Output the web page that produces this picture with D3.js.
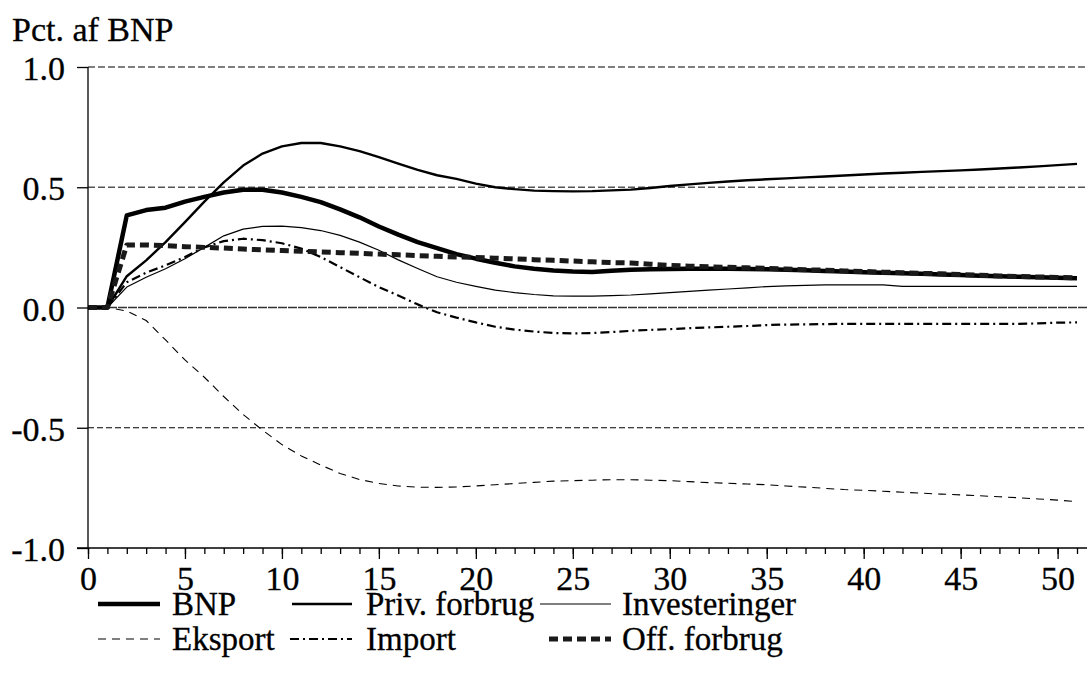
<!DOCTYPE html>
<html>
<head>
<meta charset="utf-8">
<script src="https://cdn.jsdelivr.net/npm/d3@7"></script>
<style>
  html, body { margin: 0; padding: 0; background: #fff; }
</style>
</head>
<body>
<svg id="chart" width="1089" height="686"></svg>
<script>
// Quarters after the shock
const periods = d3.range(0, 52);

// Effects, pct. of GDP
const bnp = [0, 0, 0.383, 0.405, 0.415, 0.44, 0.46, 0.478, 0.49, 0.49, 0.478, 0.46, 0.438, 0.408, 0.375, 0.337, 0.303, 0.272, 0.247, 0.222, 0.203, 0.186, 0.171, 0.161, 0.154, 0.15, 0.148, 0.153, 0.157, 0.159, 0.16, 0.161, 0.161, 0.161, 0.16, 0.159, 0.157, 0.155, 0.152, 0.15, 0.147, 0.145, 0.142, 0.14, 0.137, 0.135, 0.132, 0.13, 0.128, 0.126, 0.124, 0.122];
const privForbrug = [0, 0, 0.13, 0.196, 0.272, 0.355, 0.44, 0.52, 0.59, 0.64, 0.67, 0.684, 0.684, 0.67, 0.65, 0.625, 0.598, 0.572, 0.55, 0.535, 0.515, 0.5, 0.492, 0.486, 0.484, 0.483, 0.484, 0.487, 0.49, 0.497, 0.505, 0.512, 0.518, 0.524, 0.529, 0.533, 0.537, 0.541, 0.545, 0.549, 0.553, 0.557, 0.56, 0.564, 0.567, 0.57, 0.574, 0.578, 0.582, 0.587, 0.592, 0.597];
const investeringer = [0, 0, 0.085, 0.126, 0.161, 0.203, 0.25, 0.298, 0.326, 0.337, 0.338, 0.332, 0.32, 0.3, 0.272, 0.238, 0.198, 0.162, 0.128, 0.105, 0.088, 0.072, 0.062, 0.054, 0.048, 0.047, 0.047, 0.049, 0.052, 0.057, 0.062, 0.067, 0.072, 0.077, 0.082, 0.087, 0.09, 0.092, 0.094, 0.094, 0.094, 0.094, 0.088, 0.088, 0.088, 0.088, 0.088, 0.088, 0.088, 0.088, 0.088, 0.088];
const eksport = [0, 0, -0.015, -0.054, -0.135, -0.218, -0.29, -0.37, -0.445, -0.51, -0.57, -0.617, -0.655, -0.69, -0.715, -0.732, -0.742, -0.747, -0.748, -0.746, -0.742, -0.737, -0.732, -0.727, -0.722, -0.72, -0.718, -0.716, -0.716, -0.718, -0.72, -0.724, -0.728, -0.731, -0.734, -0.737, -0.742, -0.747, -0.752, -0.757, -0.76, -0.764, -0.768, -0.772, -0.776, -0.779, -0.783, -0.787, -0.791, -0.796, -0.801, -0.807];
const importVals = [0, 0, 0.105, 0.145, 0.175, 0.21, 0.25, 0.276, 0.286, 0.28, 0.267, 0.245, 0.21, 0.168, 0.126, 0.085, 0.05, 0.013, -0.02, -0.042, -0.062, -0.08, -0.092, -0.1, -0.106, -0.108, -0.106, -0.102, -0.097, -0.093, -0.09, -0.086, -0.083, -0.08, -0.077, -0.073, -0.071, -0.07, -0.069, -0.068, -0.068, -0.068, -0.068, -0.068, -0.068, -0.068, -0.068, -0.068, -0.068, -0.066, -0.063, -0.062];
const offForbrug = [0, 0, 0.26, 0.26, 0.257, 0.253, 0.25, 0.247, 0.243, 0.24, 0.237, 0.234, 0.231, 0.228, 0.225, 0.222, 0.219, 0.216, 0.213, 0.21, 0.208, 0.205, 0.202, 0.199, 0.196, 0.193, 0.19, 0.187, 0.185, 0.18, 0.175, 0.172, 0.169, 0.167, 0.165, 0.163, 0.16, 0.157, 0.155, 0.152, 0.15, 0.147, 0.145, 0.142, 0.14, 0.137, 0.134, 0.131, 0.129, 0.127, 0.125, 0.123];

const seriesNames = ["BNP", "Priv. forbrug", "Investeringer", "Eksport", "Import", "Off. forbrug"];
const yTicks = [-1.0, -0.5, 0.0, 0.5, 1.0];
const xTicks = [0, 5, 10, 15, 20, 25, 30, 35, 40, 45, 50];
const yTitle = "Pct. af BNP";

const FONT = "'Liberation Serif', 'Times New Roman', Times, serif";

// Line styles per series
const styles = {
  "BNP":           { width: 4.5, dash: null, color: "#000" },
  "Priv. forbrug": { width: 2.4, dash: null, color: "#000" },
  "Investeringer": { width: 1.2, dash: null, color: "#000" },
  "Eksport":       { width: 1.1, dash: "8,6", color: "#000" },
  "Import":        { width: 2.2, dash: "9,4,2,4", color: "#000" },
  "Off. forbrug":  { width: 5, dash: "9,5", color: "#1a1a1a" }
};

const values = {
  "BNP": bnp, "Priv. forbrug": privForbrug, "Investeringer": investeringer,
  "Eksport": eksport, "Import": importVals, "Off. forbrug": offForbrug
};

const svg = d3.select("#chart");
const plotLeft = 88, plotTop = 67, plotBottom = 548, plotRight = 1077, gridRight = 1087;

const x = d3.scaleLinear().domain([0, 51]).range([plotLeft, plotRight]);
const y = d3.scaleLinear().domain([-1, 1]).range([plotBottom, plotTop]);

function styleText(sel, size) {
  return sel.attr("font-family", FONT).style("font-family", FONT)
    .style("font-size", size).attr("fill", "#000")
    .attr("stroke", "#000").attr("stroke-width", 0.3);
}

// Horizontal gridlines
const grid = svg.append("g");
[1.0, 0.5].forEach(v => {
  grid.append("line").attr("x1", plotLeft).attr("x2", gridRight)
    .attr("y1", y(v)).attr("y2", y(v))
    .attr("stroke", "#555").attr("stroke-width", 1.4).attr("stroke-dasharray", "7,3");
});
grid.append("line").attr("x1", plotLeft).attr("x2", gridRight)
  .attr("y1", y(-0.5)).attr("y2", y(-0.5))
  .attr("stroke", "#000").attr("stroke-width", 1.2).attr("stroke-dasharray", "6,3");
grid.append("line").attr("x1", plotLeft).attr("x2", gridRight)
  .attr("y1", y(0)).attr("y2", y(0))
  .attr("stroke", "#333").attr("stroke-width", 1.6).attr("stroke-dasharray", "9,1");

// Series
const line = d3.line().x((d, i) => x(periods[i])).y(d => y(d));
const plot = svg.append("g");
["Eksport", "Import", "Investeringer", "Priv. forbrug", "BNP", "Off. forbrug"].forEach(name => {
  const s = styles[name];
  plot.append("path").datum(values[name])
    .attr("d", line)
    .attr("fill", "none")
    .attr("stroke", s.color)
    .attr("stroke-width", s.width)
    .attr("stroke-linejoin", "round")
    .attr("stroke-dasharray", s.dash);
});

// Y axis
const yAxis = d3.axisLeft(y).tickValues(yTicks).tickSize(11).tickPadding(12);
const gy = svg.append("g").attr("transform", `translate(${plotLeft},0)`).call(yAxis);
gy.select(".domain").attr("stroke", "#000").attr("stroke-width", 1.3).attr("d", `M0,${plotTop}V${plotBottom}`);
gy.selectAll(".tick line").attr("stroke", "#000").attr("stroke-width", 1.3);
styleText(gy.selectAll(".tick text"), "34px").attr("dy", "0.37em")
  .text(d => d < 0 ? "-" + Math.abs(d).toFixed(1) : d.toFixed(1));

// X axis: minor ticks every period, labelled every 5
const gxMinor = svg.append("g").attr("transform", `translate(0,${plotBottom})`)
  .call(d3.axisBottom(x).tickValues(periods).tickSize(6).tickFormat(""));
gxMinor.select(".domain").remove();
gxMinor.selectAll(".tick line").attr("stroke", "#000").attr("stroke-width", 1.3);

const gx = svg.append("g").attr("transform", `translate(0,${plotBottom})`)
  .call(d3.axisBottom(x).tickValues(xTicks).tickSize(11).tickFormat(d3.format("d")));
gx.select(".domain").attr("stroke", "#000").attr("stroke-width", 1.3).attr("d", `M${plotLeft - 11},0H${gridRight}`);
gx.selectAll(".tick line").attr("stroke", "#000").attr("stroke-width", 1.3);
styleText(gx.selectAll(".tick text"), "34px").attr("y", 42).attr("dy", null);

// Axis title
styleText(svg.append("text").attr("x", 12).attr("y", 41), "34px").text(yTitle);

// Legend: two rows, three columns
const legendItems = [
  { name: "BNP", lx: 98, lx2: 160, tx: 172, row: 0 },
  { name: "Priv. forbrug", lx: 292, lx2: 352, tx: 366, row: 0 },
  { name: "Investeringer", lx: 540, lx2: 611, tx: 622, row: 0 },
  { name: "Eksport", lx: 98, lx2: 160, tx: 172, row: 1 },
  { name: "Import", lx: 290, lx2: 352, tx: 366, row: 1 },
  { name: "Off. forbrug", lx: 549, lx2: 611, tx: 622, row: 1 }
];
const legend = svg.append("g");
legendItems.forEach(item => {
  const s = styles[item.name];
  const ly = 604 + item.row * 35;
  legend.append("line").attr("x1", item.lx).attr("x2", item.lx2)
    .attr("y1", ly).attr("y2", ly)
    .attr("stroke", s.color).attr("stroke-width", s.width)
    .attr("stroke-dasharray", s.dash);
  styleText(legend.append("text").attr("x", item.tx).attr("y", ly + 11), "33px").text(item.name);
});
</script>
</body>
</html>
